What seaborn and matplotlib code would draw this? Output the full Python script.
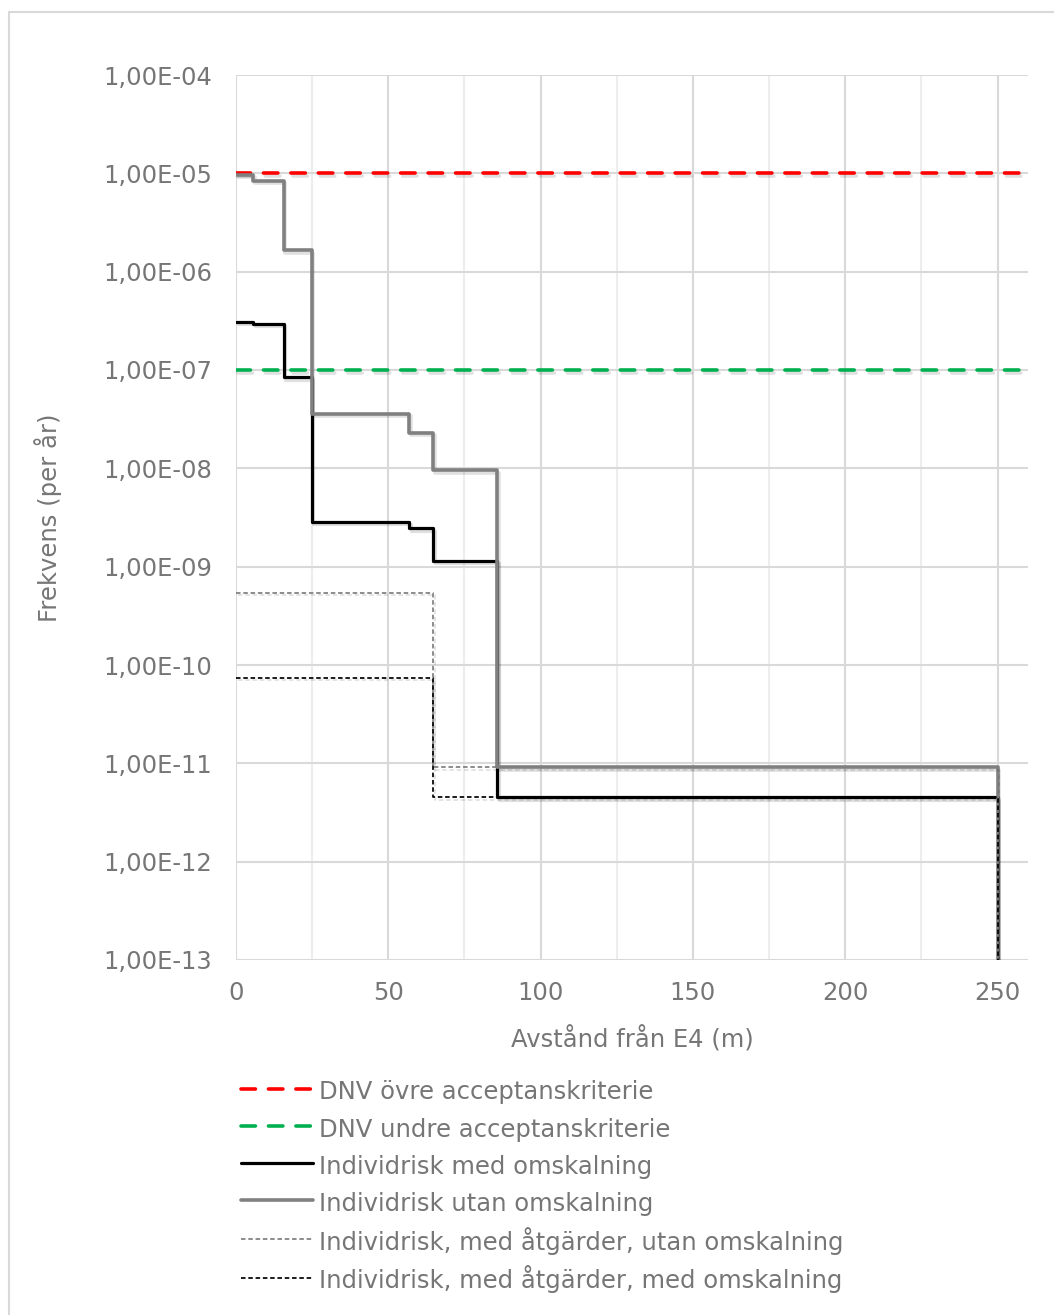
import matplotlib
matplotlib.use("Agg")
import matplotlib.pyplot as plt
import matplotlib.patheffects as pe
from matplotlib.lines import Line2D
from matplotlib.ticker import FixedLocator, FuncFormatter, NullLocator, MultipleLocator
import seaborn as sns

# Stepwise individual risk along the distance from E4
dist = [0, 5.7, 15.7, 24.8, 56.8, 64.8, 85.7, 250]
risk_utan = [9.7e-6, 8.4e-6, 1.65e-6, 3.6e-8, 2.3e-8, 9.6e-9, 9.1e-12, 1e-13]
risk_med = [3.1e-7, 2.95e-7, 8.4e-8, 2.85e-9, 2.45e-9, 1.15e-9, 4.5e-12, 1e-13]

# Risk with measures taken
dist_atg = [0, 64.8, 250]
risk_atg_utan = [5.4e-10, 9.1e-12, 1e-13]
risk_atg_med = [7.4e-11, 4.5e-12, 1e-13]

# Acceptance criteria (DNV)
crit_x = [0, 260]
crit_upper = [1e-5, 1e-5]
crit_lower = [1e-7, 1e-7]

labels = [
    "DNV övre acceptanskriterie",
    "DNV undre acceptanskriterie",
    "Individrisk med omskalning",
    "Individrisk utan omskalning",
    "Individrisk, med åtgärder, utan omskalning",
    "Individrisk, med åtgärder, med omskalning",
]
y_ticks = [1e-4, 1e-5, 1e-6, 1e-7, 1e-8, 1e-9, 1e-10, 1e-11, 1e-12, 1e-13]
x_ticks = [0, 50, 100, 150, 200, 250]

TXT = "#767676"
FS = 17.5
sns.set_theme(style="white")
plt.rcParams["font.family"] = ["DejaVu Sans"]

fig = plt.figure(figsize=(10.54, 13.15), dpi=100)
ax = fig.add_axes([236 / 1054, 1 - 960 / 1315, (1028 - 236) / 1054, (960 - 75) / 1315])

shadow = [pe.SimpleLineShadow(offset=(1.2, -1.8), shadow_color="#000000", alpha=0.12, rho=1), pe.Normal()]

crit_dash = (4.0, 3.6)
sns.lineplot(x=crit_x, y=crit_upper, ax=ax, color="#FF0000", lw=2.6,
             linestyle=(0, crit_dash), dash_capstyle="round", path_effects=shadow)
sns.lineplot(x=crit_x, y=crit_lower, ax=ax, color="#00B050", lw=2.6,
             linestyle=(0, crit_dash), dash_capstyle="round", path_effects=shadow)

sns.lineplot(x=dist, y=risk_med, ax=ax, color="#000000", lw=2.3, sort=False,
             drawstyle="steps-post", path_effects=shadow)
sns.lineplot(x=dist, y=risk_utan, ax=ax, color="#808080", lw=2.6, sort=False,
             drawstyle="steps-post", path_effects=shadow)

thin_dash = (2.6, 1.6)
sns.lineplot(x=dist_atg, y=risk_atg_utan, ax=ax, color="#7F7F7F", lw=1.25, sort=False,
             drawstyle="steps-post", linestyle=(0, thin_dash), path_effects=shadow)
sns.lineplot(x=dist_atg, y=risk_atg_med, ax=ax, color="#000000", lw=1.25, sort=False,
             drawstyle="steps-post", linestyle=(0, thin_dash), path_effects=shadow)

ax.set_yscale("log")
ax.set_xlim(0, 260)
ax.set_ylim(1e-13, 1e-4)
ax.yaxis.set_major_locator(FixedLocator(y_ticks))
ax.yaxis.set_minor_locator(NullLocator())
ax.yaxis.set_major_formatter(FuncFormatter(lambda v, p: f"{v:.2E}".replace(".", ",")))
ax.xaxis.set_major_locator(FixedLocator(x_ticks))
ax.xaxis.set_minor_locator(MultipleLocator(25))

for s in ax.spines.values():
    s.set_visible(False)
ax.grid(True, which="major", axis="both", color="#D9D9D9", lw=1.5)
ax.grid(True, which="minor", axis="x", color="#EDEDED", lw=1.5)
ax.set_axisbelow(True)
ax.tick_params(axis="both", which="both", length=0, labelsize=FS, labelcolor=TXT)
ax.tick_params(axis="y", pad=17)
ax.tick_params(axis="x", pad=15)

ax.set_xlabel("Avstånd från E4 (m)", fontsize=FS, color=TXT, labelpad=15)
ax.set_ylabel("Frekvens (per år)", fontsize=FS, color=TXT, labelpad=30)

if ax.get_legend() is not None:
    ax.get_legend().remove()

handles = [
    Line2D([], [], color="#FF0000", lw=2.6, linestyle=(0, crit_dash), dash_capstyle="round"),
    Line2D([], [], color="#00B050", lw=2.6, linestyle=(0, crit_dash), dash_capstyle="round"),
    Line2D([], [], color="#000000", lw=2.3, solid_capstyle="round"),
    Line2D([], [], color="#808080", lw=2.6, solid_capstyle="round"),
    Line2D([], [], color="#7F7F7F", lw=1.25, linestyle=(0, thin_dash)),
    Line2D([], [], color="#000000", lw=1.25, linestyle=(0, thin_dash)),
]
fig.legend(handles, labels, loc="upper left", bbox_to_anchor=(241 / 1054, 1 - 1078 / 1315),
           frameon=False, fontsize=FS, labelcolor=TXT, handlelength=2.95, handletextpad=0.25,
           handleheight=1.3, borderpad=0, borderaxespad=0, labelspacing=0.44)

# light outer frame of the chart area
fig.add_artist(Line2D([9 / 1054, 1.0], [1 - 12 / 1315] * 2, transform=fig.transFigure,
                      color="#D9D9D9", lw=1.5))
fig.add_artist(Line2D([9 / 1054] * 2, [0.0, 1 - 12 / 1315], transform=fig.transFigure,
                      color="#D9D9D9", lw=1.5))

fig.savefig("out.png", dpi=100)
